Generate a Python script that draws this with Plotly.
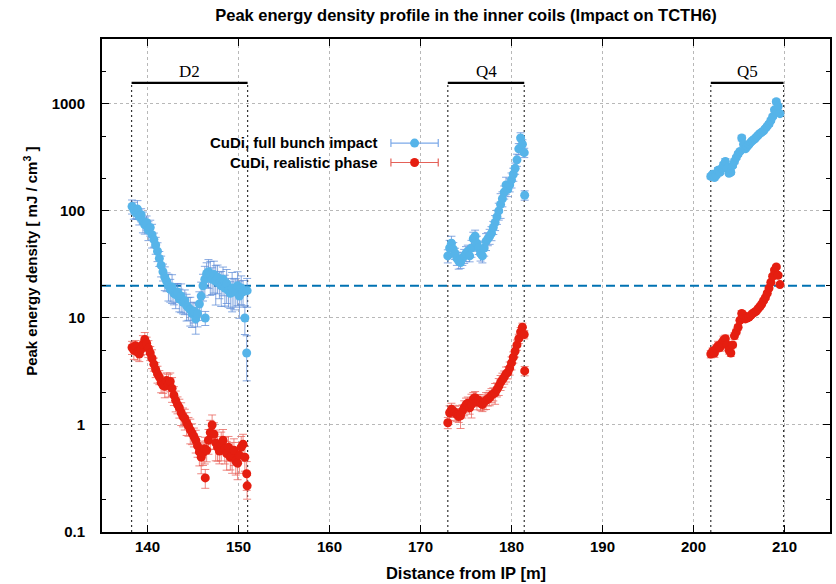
import numpy as np
import plotly.graph_objects as go

# ---------------- data ----------------
# D2 section
d2_x = [138.3, 138.5, 138.7, 138.9, 139.1, 139.3, 139.5, 139.7, 139.9, 140.1,
        140.3, 140.5, 140.7, 140.9, 141.1, 141.3, 141.5, 141.7, 141.9, 142.1,
        142.3, 142.5, 142.7, 142.9, 143.1, 143.3, 143.5, 143.7, 143.9, 144.1,
        144.3, 144.5, 144.7, 144.9, 145.1, 145.3, 145.5, 145.7, 145.9, 146.1,
        146.3, 146.5, 146.7, 146.9, 147.1, 147.3, 147.5, 147.7, 147.9, 148.1,
        148.3, 148.5, 148.7, 148.9, 149.1, 149.3, 149.5, 149.7, 149.9, 150.1,
        150.3, 150.5, 150.7, 150.9, 146.35, 150.95]
d2_full = [110, 102, 96, 104, 88, 92, 80, 74, 78, 66,
           70, 60, 54, 48, 42, 36, 31, 27, 24, 22,
           20, 18.5, 19.5, 17, 16.5, 17.5, 15, 16, 14, 14.5,
           13, 12.5, 12, 11, 11.5, 9.8, 11, 13.5, 16, 20,
           23, 26, 27, 25, 23, 25.5, 22, 24, 21, 20,
           23, 19, 21, 18, 17, 19, 17.5, 18, 20, 16,
           19, 17.5, 10, 4.7, 10, 18]
d2_full_err = [15, 18, 12, 20, 16, 14, 22, 18, 15, 20,
               17, 25, 15, 18, 20, 16, 22, 18, 25, 20,
               28, 24, 30, 22, 26, 20, 24, 30, 22, 26,
               28, 24, 30, 26, 22, 28, 25, 30, 35, 28,
               32, 26, 30, 35, 28, 33, 40, 30, 28, 36,
               30, 32, 35, 30, 28, 40, 32, 30, 35, 38,
               30, 28, 30, 45, 15, 30]
d2_real = [5.3, 5.0, 5.5, 4.8, 4.6, 5.1, 5.7, 6.3, 5.8, 5.2,
           4.7, 4.2, 3.7, 3.3, 3.0, 2.8, 2.5, 2.35, 2.3, 2.6,
           2.4, 2.55, 2.2, 1.9, 1.7, 1.55, 1.45, 1.3, 1.2, 1.15,
           1.05, 0.98, 0.9, 0.84, 0.78, 0.72, 0.64, 0.56, 0.5, 0.55,
           0.6, 0.58, 0.72, 0.85, 1.0, 0.82, 0.68, 0.62, 0.57, 0.66,
           0.72, 0.6, 0.54, 0.62, 0.5, 0.52, 0.58, 0.46, 0.44, 0.52,
           0.62, 0.66, 0.5, 0.35, 0.32, 0.27]
d2_real_err = [14, 18, 12, 16, 15, 13, 20, 16, 14, 18,
               15, 20, 14, 16, 18, 15, 20, 16, 22, 18,
               24, 20, 26, 20, 22, 18, 20, 24, 20, 22,
               24, 20, 26, 22, 20, 24, 22, 26, 30, 24,
               28, 22, 26, 30, 24, 28, 32, 26, 24, 30,
               26, 28, 30, 26, 24, 32, 28, 26, 30, 32,
               26, 24, 26, 30, 20, 25]

# Q4 section
q4_x = [173.0, 173.2, 173.4, 173.6, 173.8, 174.0, 174.2, 174.4, 174.6, 174.8,
        175.0, 175.2, 175.4, 175.6, 175.8, 176.0, 176.2, 176.4, 176.6, 176.8,
        177.0, 177.2, 177.4, 177.6, 177.8, 178.0, 178.2, 178.4, 178.6, 178.8,
        179.0, 179.2, 179.4, 179.6, 179.8, 180.0, 180.2, 180.4, 180.6, 180.8,
        181.0, 181.2, 181.4, 181.45]
q4_full = [38, 45, 50, 44, 40, 36, 34, 33, 36, 38,
           40, 42, 38, 45, 55, 58, 50, 45, 40, 38,
           45, 52, 55, 58, 62, 70, 78, 88, 100, 115,
           130, 150, 175, 160, 175, 195, 220, 250, 300, 380,
           480, 420, 350, 140]
q4_full_err = [14, 18, 16, 15, 12, 14, 16, 12, 14, 15,
               16, 14, 12, 18, 15, 14, 16, 13, 15, 14,
               16, 18, 14, 16, 15, 14, 16, 15, 18, 26,
               16, 14, 18, 15, 14, 16, 14, 12, 13, 12,
               12, 10, 10, 10]
q4_real = [1.05, 1.3, 1.4, 1.35, 1.3, 1.25, 1.2, 1.22, 1.35, 1.45,
           1.55, 1.6, 1.45, 1.55, 1.75, 1.8, 1.65, 1.7, 1.6, 1.55,
           1.65, 1.7, 1.75, 1.8, 1.9, 1.95, 2.0, 2.15, 2.3, 2.5,
           2.65, 2.8, 3.0, 3.1, 3.4, 3.8, 4.3, 4.9, 5.6, 6.4,
           7.4, 8.2, 7.0, 3.2]
q4_real_err = [12, 16, 14, 13, 15, 14, 12, 24, 14, 16,
               15, 14, 13, 25, 15, 14, 16, 13, 15, 14,
               16, 18, 14, 16, 15, 14, 22, 15, 18, 16,
               15, 14, 16, 13, 14, 14, 12, 12, 11, 10,
               10, 9, 9, 10]

# Q5 section
q5_x = [201.9, 202.1, 202.3, 202.5, 202.7, 202.9, 203.1, 203.3, 203.5, 203.7,
        203.9, 204.1, 204.3, 204.5, 204.7, 204.9, 205.1, 205.3, 205.5, 205.7,
        205.9, 206.1, 206.3, 206.5, 206.7, 206.9, 207.1, 207.3, 207.5, 207.7,
        207.9, 208.1, 208.3, 208.5, 208.7, 208.9, 209.1, 209.3, 209.5]
q5_full = [210, 220, 205, 215, 240, 230, 250, 270, 290, 250,
           225, 230, 265, 290, 315, 340, 360, 480, 420, 380,
           400, 420, 440, 455, 470, 490, 510, 530, 545, 560,
           590, 620, 650, 700, 760, 880, 1050, 950, 810]
q5_full_err = [5, 4, 5, 4, 6, 5, 4, 5, 6, 5,
               4, 5, 4, 5, 4, 5, 4, 6, 5, 4,
               4, 5, 4, 4, 5, 4, 4, 5, 4, 4,
               4, 4, 5, 4, 4, 4, 5, 4, 4]
q5_real = [4.6, 4.9, 4.7, 5.2, 5.5, 5.3, 5.8, 6.2, 6.4, 5.6,
           5.0, 4.7, 5.6, 6.8, 7.4, 8.2, 9.5, 11.0, 10.6, 9.8,
           10.0, 10.2, 10.6, 11.0, 11.3, 11.6, 12.2, 12.8, 13.5, 14.5,
           15.5, 17.0, 19.0, 21.5, 24.5, 28.0, 30.0, 25.0, 20.5]
q5_real_err = [8, 7, 9, 8, 10, 8, 7, 9, 8, 7,
               8, 7, 6, 7, 6, 6, 5, 6, 5, 5,
               5, 5, 5, 4, 5, 4, 4, 5, 4, 4,
               4, 4, 4, 4, 4, 4, 4, 4, 4]

# magnets: name, start, end [m]
magnet_names = ["D2", "Q4", "Q5"]
magnet_start = [138.25, 173.0, 201.9]
magnet_end = [151.0, 181.4, 209.9]
magnet_level = 1570          # height of the magnet bars
threshold = 20               # reference level [mJ/cm3]

series_names = ["CuDi, full bunch impact", "CuDi, realistic phase"]

# ---------------- styling ----------------
BLUE = "#56b4e9"
BLUE_ERR = "rgba(95,140,215,0.75)"
RED = "#e51e10"
RED_ERR = "rgba(232,95,85,0.75)"
FONT = "Liberation Sans, Arial, Helvetica, sans-serif"
TXT = 16.5
KEY_TXT = 15

X_RANGE = [135, 215]
Y_RANGE = [-1, np.log10(4040)]

W, H = 836, 584
ML, MR, MT, MB = 102, 4, 39, 49
plot_w = W - ML - MR
plot_h = H - MT - MB

fig = go.Figure()

# vertical magnet boundaries
for s, e in zip(magnet_start, magnet_end):
    for xb in (s, e):
        fig.add_trace(go.Scatter(
            x=[xb, xb], y=[0.1, magnet_level], mode="lines",
            line=dict(color="#333333", width=1.2, dash="2px,3px"),
            hoverinfo="skip", showlegend=False))

# horizontal threshold line
fig.add_trace(go.Scatter(
    x=X_RANGE, y=[threshold, threshold], mode="lines",
    line=dict(color="#0072b2", width=2.2, dash="9px,5px"),
    hoverinfo="skip", showlegend=False))

# magnet bars
for s, e in zip(magnet_start, magnet_end):
    fig.add_trace(go.Scatter(
        x=[s, e], y=[magnet_level, magnet_level], mode="lines",
        line=dict(color="black", width=2.2),
        hoverinfo="skip", showlegend=False))


def pct_to_abs(vals, pct):
    return [v * p / 100.0 for v, p in zip(vals, pct)]


sections = [
    (d2_x, d2_full, d2_full_err, d2_real, d2_real_err),
    (q4_x, q4_full, q4_full_err, q4_real, q4_real_err),
    (q5_x, q5_full, q5_full_err, q5_real, q5_real_err),
]

for xs, full, full_err, real, real_err in sections:
    fig.add_trace(go.Scatter(
        x=xs, y=full, mode="markers",
        marker=dict(color=BLUE, size=9),
        error_y=dict(type="data", array=pct_to_abs(full, full_err),
                     color=BLUE_ERR, thickness=1, width=4),
        showlegend=False))
    fig.add_trace(go.Scatter(
        x=xs, y=real, mode="markers",
        marker=dict(color=RED, size=9),
        error_y=dict(type="data", array=pct_to_abs(real, real_err),
                     color=RED_ERR, thickness=1, width=4),
        showlegend=False))

# key: right-aligned two-line text block with error-bar symbols to its right
key_x = 169.35
key_half = 2.6
key_text_x = 165.6
line_px = KEY_TXT * 1.3                       # plotly line spacing
key_center_px = 153.5                          # vertical centre of the block
px_per_decade = plot_h / (Y_RANGE[1] - Y_RANGE[0])
y_top_px = MT


def px_to_val(py):
    return 10 ** (Y_RANGE[1] - (py - y_top_px) / px_per_decade)


key_rows_px = [key_center_px - line_px / 2, key_center_px + line_px / 2]
key_colors = [(BLUE, "rgba(110,160,230,0.9)"), (RED, "rgba(225,80,70,0.9)")]
for py, (mc, ec) in zip(key_rows_px, key_colors):
    fig.add_trace(go.Scatter(
        x=[key_x], y=[px_to_val(py)], mode="markers",
        marker=dict(color=mc, size=9),
        error_x=dict(type="data", array=[key_half], color=ec,
                     thickness=1.2, width=4),
        hoverinfo="skip", showlegend=False))

annotations = [dict(
    x=key_text_x, y=np.log10(px_to_val(key_center_px)), xref="x", yref="y",
    text="<br>".join("<b>" + n + "</b>" for n in series_names),
    showarrow=False, xanchor="right", yanchor="middle", align="right",
    font=dict(family=FONT, size=KEY_TXT, color="black"))]

# magnet labels
for name, s, e in zip(magnet_names, magnet_start, magnet_end):
    annotations.append(dict(
        x=(s + e) / 2, y=np.log10(magnet_level), xref="x", yref="y",
        text=name, showarrow=False, xanchor="center", yanchor="bottom",
        font=dict(family="Liberation Serif, Times New Roman, serif",
                  size=17, color="black")))

# y-axis title, placed by pixel position
annotations.append(dict(
    x=(30 - ML) / plot_w, y=(H - MB - 263) / plot_h, xref="paper", yref="paper",
    text="<b>Peak energy density [ mJ / cm<sup>3</sup> ]</b>",
    showarrow=False, textangle=-90, xanchor="center", yanchor="middle",
    font=dict(family=FONT, size=15, color="black")))

fig.update_layout(
    width=W, height=H,
    margin=dict(l=ML, r=MR, t=MT, b=MB),
    paper_bgcolor="white", plot_bgcolor="white",
    showlegend=False,
    title=dict(text="<b>Peak energy density profile in the inner coils (Impact on TCTH6)</b>",
               x=0.5, xref="paper", xanchor="center",
               y=1 - 15 / H, yref="container", yanchor="middle",
               font=dict(family=FONT, size=TXT, color="black")),
    annotations=annotations,
)

fig.update_xaxes(
    range=X_RANGE, dtick=10, tick0=140,
    showline=True, linecolor="black", linewidth=2, mirror="allticks",
    ticks="inside", ticklen=7, tickwidth=1, tickcolor="black",
    showgrid=True, gridcolor="#b8b8b8", gridwidth=1, griddash="dot",
    zeroline=False,
    tickprefix="<b>", ticksuffix="</b>",
    tickfont=dict(family=FONT, size=15, color="black"),
    title=dict(text="<b>Distance from IP [m]</b>", standoff=13,
               font=dict(family=FONT, size=TXT, color="black")),
)
fig.update_yaxes(
    type="log", range=Y_RANGE,
    tickvals=[0.1, 1, 10, 100, 1000],
    ticktext=["<b>0.1</b>", "<b>1</b>", "<b>10</b>", "<b>100</b>", "<b>1000</b>"],
    showline=True, linecolor="black", linewidth=2, mirror="allticks",
    ticks="inside", ticklen=7, tickwidth=1, tickcolor="black",
    showgrid=True, gridcolor="#b8b8b8", gridwidth=1, griddash="dot",
    zeroline=False,
    minor=dict(tickvals=[0.2, 0.5, 2, 5, 20, 50, 200, 500, 2000],
               ticks="inside", ticklen=4, tickcolor="black", showgrid=False),
    tickfont=dict(family=FONT, size=15, color="black"),
    ticklabelstandoff=12,
)

fig.write_html("out.html")
